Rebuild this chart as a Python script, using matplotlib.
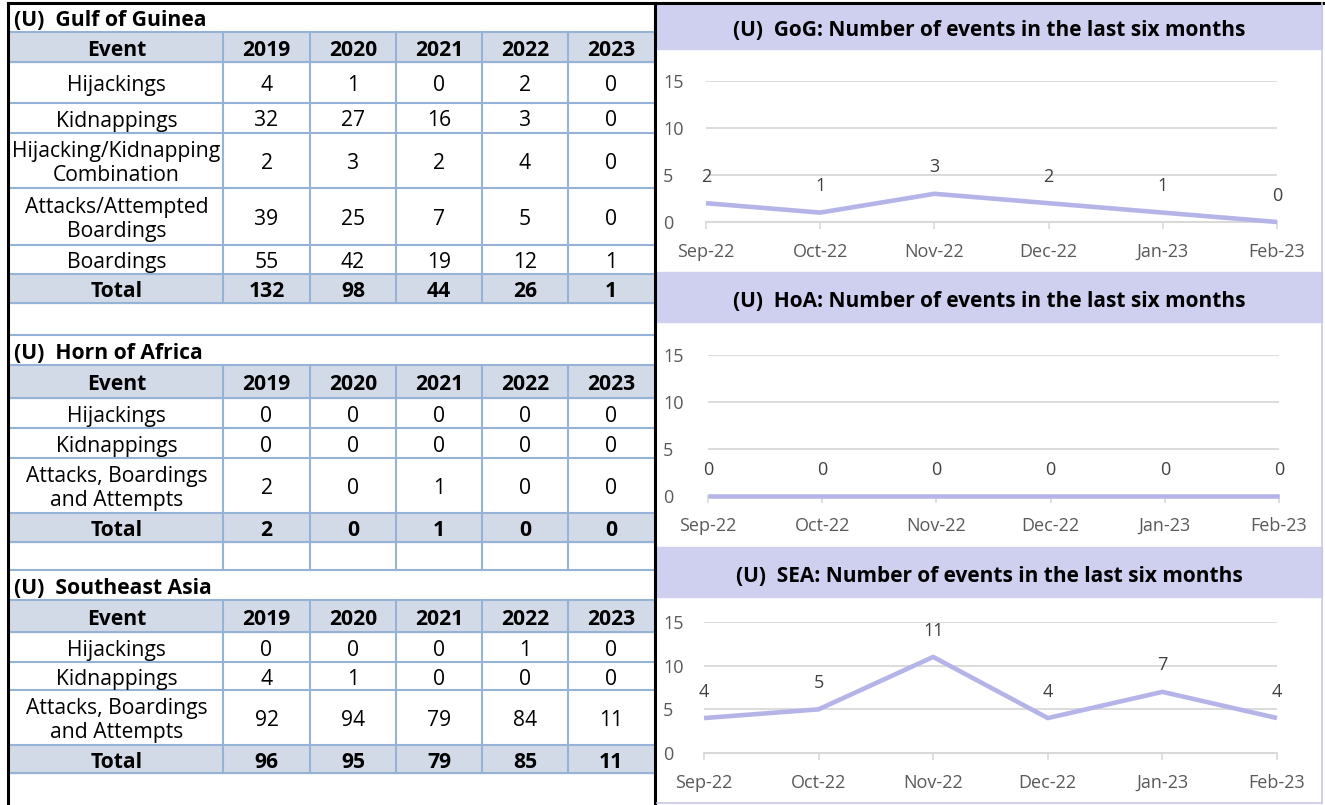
import matplotlib.pyplot as plt
from matplotlib.patches import Rectangle
import numpy as np

plt.rcParams['font.family'] = ['Open Sans', 'DejaVu Sans']

# ---- данные ----
years = ['2019', '2020', '2021', '2022', '2023']

gog_events = ['Hijackings', 'Kidnappings', 'Hijacking/Kidnapping\nCombination',
              'Attacks/Attempted\nBoardings', 'Boardings']
gog_values = [[4, 1, 0, 2, 0],
              [32, 27, 16, 3, 0],
              [2, 3, 2, 4, 0],
              [39, 25, 7, 5, 0],
              [55, 42, 19, 12, 1]]

hoa_events = ['Hijackings', 'Kidnappings', 'Attacks, Boardings\nand Attempts']
hoa_values = [[0, 0, 0, 0, 0],
              [0, 0, 0, 0, 0],
              [2, 0, 1, 0, 0]]

sea_events = ['Hijackings', 'Kidnappings', 'Attacks, Boardings\nand Attempts']
sea_values = [[0, 0, 0, 1, 0],
              [4, 1, 0, 0, 0],
              [92, 94, 79, 84, 11]]

months = ['Sep-22', 'Oct-22', 'Nov-22', 'Dec-22', 'Jan-23', 'Feb-23']
gog_monthly = [2, 1, 3, 2, 1, 0]
hoa_monthly = [0, 0, 0, 0, 0, 0]
sea_monthly = [4, 5, 11, 4, 7, 4]

# ---- стиль ----
W, H = 1325, 805
GRID_BLUE = '#95b3d7'
HEAD_FILL = '#d3dae7'
BAND = '#cfcff0'
LINE = '#b4b4e8'
TICK_GREY = '#595959'
LABEL_GREY = '#404040'
LIGHT = '#d9d9d9'
FS = 15.2

fig = plt.figure(figsize=(W / 100, H / 100), dpi=100)
bg = fig.add_axes([0, 0, 1, 1])
bg.set_xlim(0, W)
bg.set_ylim(H, 0)
bg.axis('off')

cols = [10, 223, 310, 396, 482, 568, 654]


def hline(y, x0=10, x1=654):
    bg.plot([x0, x1], [y, y], color=GRID_BLUE, lw=1.5, zorder=2)


def vlines(y0, y1):
    for x in cols[1:-1]:
        bg.plot([x, x], [y0, y1], color=GRID_BLUE, lw=1.5, zorder=2)


def draw_table(title, ytitle, bounds, events, values):
    """Рисует таблицу: заголовок, шапка, строки событий, итог."""
    bg.text(14, (ytitle[0] + ytitle[1]) / 2 + 3, title, fontsize=FS, fontweight='bold',
            ha='left', va='center')
    totals = np.sum(values, axis=0)
    rows = [('Event', years, True)]
    rows += [(e, [str(v) for v in vals], False) for e, vals in zip(events, values)]
    rows += [('Total', [str(t) for t in totals], True)]
    for (name, cells, bold), y0, y1 in zip(rows, bounds[:-1], bounds[1:]):
        if bold:
            bg.add_patch(Rectangle((10, y0), 644, y1 - y0, color=HEAD_FILL, zorder=1))
        yc = (y0 + y1) / 2 + 3
        w = 'bold' if bold else 'normal'
        bg.text((cols[0] + cols[1]) / 2, yc, name, fontsize=FS, fontweight=w,
                ha='center', va='center', linespacing=1.2)
        for i, c in enumerate(cells):
            bg.text((cols[i + 1] + cols[i + 2]) / 2, yc, c, fontsize=FS, fontweight=w,
                    ha='center', va='center')
    for y in bounds:
        hline(y)
    vlines(bounds[0], bounds[-1])


draw_table('(U)  Gulf of Guinea', (4, 32), [32, 62, 103, 133, 188, 245, 274, 303],
           gog_events, gog_values)
hline(335)
draw_table('(U)  Horn of Africa', (335, 365), [365, 398, 428, 458, 513, 542],
           hoa_events, hoa_values)
# пустая строка с ячейками
hline(570)
vlines(542, 570)
draw_table('(U)  Southeast Asia', (570, 600), [600, 632, 662, 690, 745, 773],
           sea_events, sea_values)

# рамки
bg.plot([8, 8], [3, H], color='black', lw=2.2, zorder=5)
bg.plot([655, 655], [3, H], color='black', lw=2.2, zorder=5)
bg.plot([8, W], [3, 3], color='black', lw=2.2, zorder=5)
bg.plot([1322, 1322], [3, 803], color='#c8c8e0', lw=1.2, zorder=5)
bg.plot([657, 1322], [803, 803], color='#c8c8e0', lw=1.2, zorder=5)


def draw_chart(title, band, xr, y0, y15, data):
    """Полоса заголовка и линейный график."""
    bg.add_patch(Rectangle((657, band[0]), 665, band[1] - band[0], color=BAND, zorder=1))
    bg.text((657 + 1322) / 2, (band[0] + band[1]) / 2 + 4, title, fontsize=15,
            fontweight='bold', ha='center', va='center')
    ax = fig.add_axes([xr[0] / W, (H - y0) / H, (xr[1] - xr[0]) / W, (y0 - y15) / H])
    x = np.arange(len(months))
    ax.plot(x, data, color=LINE, lw=3.3, solid_joinstyle='round', solid_capstyle='butt',
            zorder=3, clip_on=False)
    for xi, v in zip(x, data):
        ax.annotate(str(v), (xi, v), xytext=(0, 19), textcoords='offset points',
                    ha='center', va='center', fontsize=13, color=LABEL_GREY,
                    annotation_clip=False)
    ax.set_xlim(0, len(months) - 1)
    ax.set_ylim(0, 15)
    ax.set_xticks(x)
    ax.set_xticklabels(months)
    ax.set_yticks([0, 5, 10, 15])
    ax.set_yticklabels(['0', '5', '10', '15'], ha='left')
    ax.grid(axis='y', color=LIGHT, lw=1.3)
    ax.set_axisbelow(True)
    for s in ['top', 'right', 'left']:
        ax.spines[s].set_visible(False)
    ax.spines['bottom'].set_color(LIGHT)
    ax.spines['bottom'].set_linewidth(1.5)
    ax.tick_params(axis='x', length=5, width=1.2, color=LIGHT, labelcolor=TICK_GREY,
                   labelsize=13, pad=10)
    ax.tick_params(axis='y', length=0, labelcolor=TICK_GREY, labelsize=13,
                   pad=(xr[0] - 663) * 0.72)
    ax.patch.set_alpha(0)


draw_chart('(U)  GoG: Number of events in the last six months', (5, 49),
           (706, 1277), 222, 81, gog_monthly)
draw_chart('(U)  HoA: Number of events in the last six months', (272, 322),
           (708, 1279), 496, 355, hoa_monthly)
draw_chart('(U)  SEA: Number of events in the last six months', (547, 597),
           (704, 1277), 753, 622, sea_monthly)

fig.savefig('out.png', dpi=100)
